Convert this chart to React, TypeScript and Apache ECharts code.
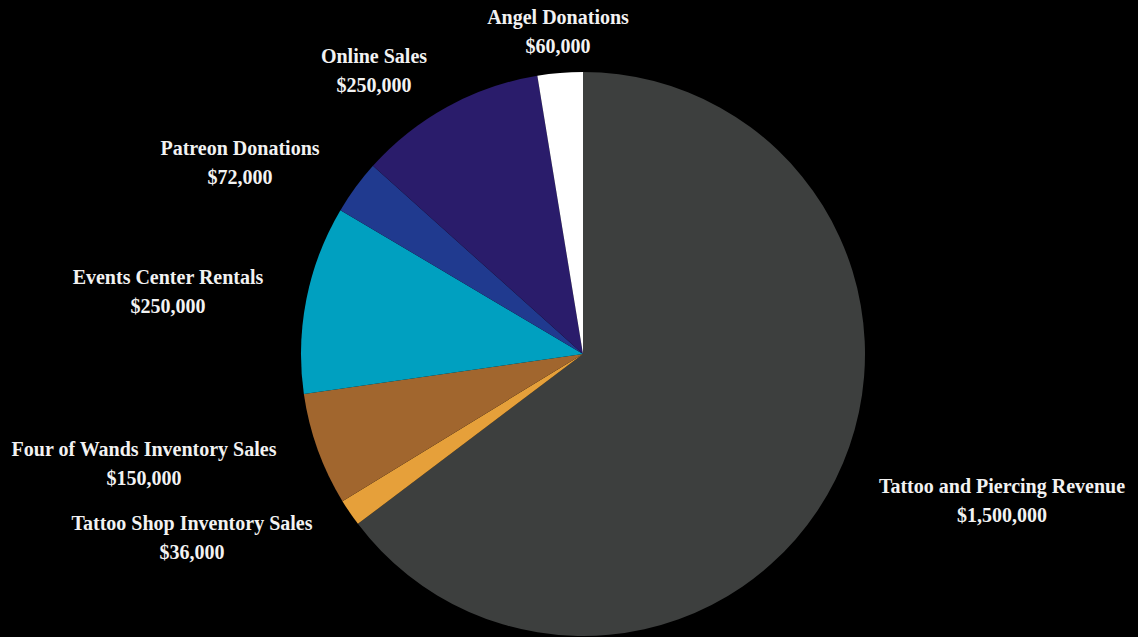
import React, { useEffect, useRef } from "react";
import * as echarts from "echarts";

const categories = [
  "Tattoo and Piercing Revenue",
  "Tattoo Shop Inventory Sales",
  "Four of Wands Inventory Sales",
  "Events Center Rentals",
  "Patreon Donations",
  "Online Sales",
  "Angel Donations",
];
const values = [1500000, 36000, 150000, 250000, 72000, 250000, 60000];
const colors = ["#3d3f3e", "#e6a03a", "#a1662e", "#00a0c0", "#203a8f", "#2a1c6b", "#ffffff"];
// label block centres (text anchors), in px
const labelCenters: [number, number][] = [
  [1002, 500],
  [192, 537],
  [144, 463],
  [168, 291],
  [240, 162],
  [374, 70],
  [558, 31],
];

const fmt = (v: number) => "$" + v.toLocaleString("en-US");

export default function App() {
  const ref = useRef<HTMLDivElement>(null);
  useEffect(() => {
    if (!ref.current) return;
    const chart = echarts.init(ref.current, undefined, { renderer: "svg" });
    chart.setOption({
      animation: false,
      backgroundColor: "#000000",
      series: [
        {
          type: "pie",
          center: [583, 354],
          radius: 282,
          startAngle: 90,
          clockwise: true,
          avoidLabelOverlap: false,
          data: categories.map((c, i) => ({
            name: c,
            value: values[i],
            itemStyle: { color: colors[i] },
          })),
          itemStyle: { borderWidth: 0 },
          label: {
            show: true,
            position: "outside",
            formatter: (p: any) => `${p.name}\n${fmt(p.value)}`,
            color: "#f2f2f2",
            fontFamily: "'Liberation Serif', 'DejaVu Serif', serif",
            fontWeight: "bold",
            fontSize: 20,
            lineHeight: 29,
            align: "center",
          },
          labelLine: { show: false },
          labelLayout: (p: any) => {
            const c = labelCenters[p.dataIndex];
            return { x: c[0], y: c[1], align: "center", verticalAlign: "middle" };
          },
        },
      ],
    });
    return () => chart.dispose();
  }, []);
  return (
    <div
      ref={ref}
      style={{ position: "fixed", left: 0, top: 0, width: 1138, height: 637, background: "#000" }}
    />
  );
}
